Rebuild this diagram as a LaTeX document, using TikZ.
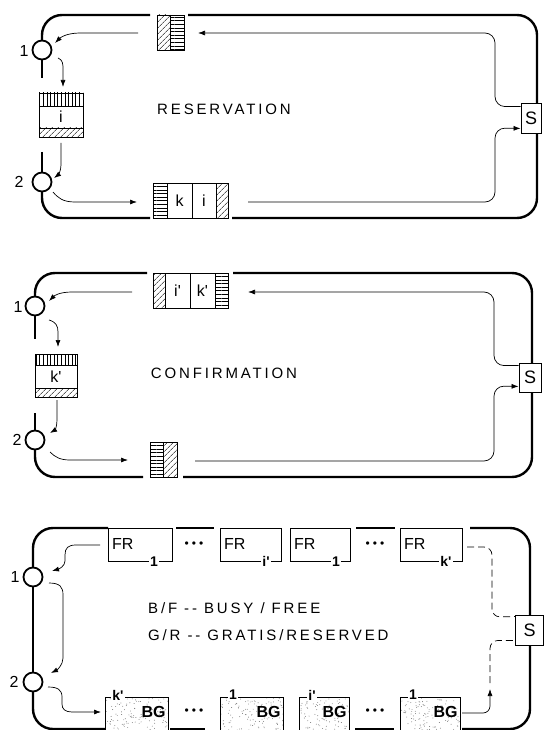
\documentclass[tikz,border=0pt]{standalone}
\usepackage{fontspec}
\setmainfont{Liberation Sans}
\newfontfamily\spacedfont[LetterSpace=19]{Liberation Sans}
\usetikzlibrary{arrows.meta,patterns.meta,calc}
\newcommand{\pr}{\textquotesingle}
\tikzset{
 outer/.style={line width=2.4pt},
 inner/.style={line width=0.7pt},
 arr/.style={inner,-{Latex[length=7pt,width=5pt]}},
 dsh/.style={inner,dash pattern=on 7pt off 4pt},
 ring/.style={circle,draw,line width=1.8pt,minimum size=19pt,inner sep=0pt,fill=white},
 cell/.style={draw,line width=0.8pt,inner sep=0pt,anchor=north west},
 dhatch/.style={pattern={Lines[angle=45,distance=4pt,line width=0.6pt]}},
 hhatch/.style={pattern={Lines[angle=0,distance=3.6pt,line width=0.6pt]}},
 vhatch/.style={pattern={Lines[angle=90,distance=3.6pt,line width=0.6pt]}},
 sbox/.style={draw,line width=0.9pt,fill=white,inner sep=0pt,font=\fontsize{18}{18}\selectfont},
 lab/.style={font=\fontsize{16}{16}\selectfont,inner sep=0pt},
 title/.style={font=\spacedfont\fontsize{15}{15}\selectfont,inner sep=0pt},
 sub/.style={font=\fontsize{14}{14}\selectfont\bfseries,fill=white,inner sep=1pt},
 bgl/.style={font=\fontsize{16}{16}\selectfont\bfseries,inner sep=0pt,anchor=east},
 dots/.style={font=\fontsize{12}{12}\selectfont,inner sep=0pt},
 stipple/.style={path picture={
   \foreach \k in {1,...,160}{
     \fill[black!55] ($(path picture bounding box.north west)+({rnd*72},{rnd*40})$) circle (0.45pt);}}},
}
\begin{document}
\begin{tikzpicture}[x=1pt,y=-1pt]
\path[use as bounding box,fill=white] (0,0) rectangle (544,730);

%================ panel 1: RESERVATION
\draw[outer,rounded corners=20pt] (42,45) |- (150,15);
\draw[outer] (42,55) -- (42,78);
\draw[outer] (42,152) -- (42,175);
\draw[outer,rounded corners=20pt] (42,188) |- (150,218);
\draw[outer,rounded corners=20pt] (188,15) -- (537,15) -- (537,218) -- (232,218);
\node[ring] (c1a) at (42,50) {};
\node[ring] (c2a) at (42,182) {};
\node[lab] (l1a) at (24,51) {1};
\node[lab] (l2a) at (19,182) {2};
\node[sbox,minimum width=20pt,minimum height=30pt] (sa) at (531,118) {S};
% top box
\node[cell,minimum width=27pt,minimum height=35pt] (ta) at (157,15) {};
\path[dhatch] (157,15) rectangle (170,50);
\path[hhatch] (170,15) rectangle (184,50);
\draw[line width=0.8pt] (170,15) -- (170,50);
% box i
\node[cell,minimum width=44pt,minimum height=44pt] (ba) at (39,93) {};
\path[vhatch] (39,93) rectangle (83,106);
\path[dhatch] (39,128) rectangle (83,137);
\draw[line width=0.8pt] (39,106) -- (83,106) (39,128) -- (83,128);
\node[lab] (ia) at (61,117) {i};
% bottom box
\node[cell,minimum width=75pt,minimum height=35pt] (bba) at (153,183) {};
\path[hhatch] (153,183) rectangle (167,218);
\path[dhatch] (216,183) rectangle (228,218);
\draw[line width=0.8pt] (167,183) -- (167,218) (192,183) -- (192,218) (216,183) -- (216,218);
\node[lab] (ka) at (179.5,201) {k};
\node[lab] (ia2) at (204,201) {i};
% arrows
\draw[arr,rounded corners=10pt] ($(sa.north west)+(0,4)$) -| (495,33) -- (198,33);
\draw[arr] (138,33) -- (80,33) .. controls (66,33) and (60,38) .. (55,43);
\draw[arr] (58,58) .. controls (63,60) and (63,64) .. (63,70) -- (63,87);
\draw[arr] (61,143) -- (61,165) .. controls (61,171) and (58,175) .. (54,178);
\draw[arr] (53,192) .. controls (58,198) and (63,202) .. (75,202) -- (137,202);
\draw[arr,rounded corners=10pt] (248,202) -| (495,128) -- ($(sa.south west)+(0,-5)$);
\node[title] (tt1) at (224,109) {RESERVATION};

%================ panel 2: CONFIRMATION
\draw[outer,rounded corners=20pt] (35,300) |- (147,273);
\draw[outer] (35,312) -- (35,339);
\draw[outer] (35,413) -- (35,434);
\draw[outer,rounded corners=20pt] (35,446) |- (143,477);
\draw[outer,rounded corners=20pt] (233,273) -- (532,273) -- (532,477) -- (183,477);
\node[ring] (c1b) at (35,306) {};
\node[ring] (c2b) at (35,440) {};
\node[lab] (l1b) at (18,307) {1};
\node[lab] (l2b) at (17,440) {2};
\node[sbox,minimum width=22pt,minimum height=29pt] (sb) at (530,377.5) {S};
% top box
\node[cell,minimum width=75pt,minimum height=35pt] (tb) at (153,273) {};
\path[dhatch] (153,273) rectangle (165,308);
\path[hhatch] (215,273) rectangle (228,308);
\draw[line width=0.8pt] (165,273) -- (165,308) (190,273) -- (190,308) (215,273) -- (215,308);
\node[lab] (ib) at (177.5,291) {i\pr};
\node[lab] (kb) at (202.5,291) {k\pr};
% box k'
\node[cell,minimum width=42pt,minimum height=43pt] (bb) at (35,354) {};
\path[vhatch] (35,354) rectangle (77,365);
\path[dhatch] (35,388) rectangle (77,397);
\draw[line width=0.8pt] (35,365) -- (77,365) (35,388) -- (77,388);
\node[lab] (kb2) at (56,377) {k\pr};
% bottom box
\node[cell,minimum width=27pt,minimum height=35pt] (bbb) at (150,442) {};
\path[hhatch] (150,442) rectangle (163.5,477);
\path[dhatch] (163.5,442) rectangle (177,477);
\draw[line width=0.8pt] (163.5,442) -- (163.5,477);
% arrows
\draw[arr,rounded corners=10pt] ($(sb.north west)+(0,3)$) -| (494,292) -- (248,292);
\draw[arr] (132,292) -- (72,292) .. controls (59,292) and (54,296) .. (49,301);
\draw[arr] (49,320) .. controls (56,322) and (58,326) .. (58,332) -- (58,347);
\draw[arr] (57,400) -- (57,420) .. controls (57,426) and (55,430) .. (50,433);
\draw[arr] (50,452) .. controls (55,457) and (60,460) .. (70,460) -- (128,460);
\draw[arr,rounded corners=10pt] (195,461) -| (494,386) -- ($(sb.south west)+(0,-6)$);
\node[title] (tt2) at (224,373) {CONFIRMATION};

%================ panel 3
\draw[outer,rounded corners=20pt] (33,571) |- (108,528);
\draw[outer] (33,583) -- (33,676);
\draw[outer,rounded corners=20pt] (33,688) |- (105,729);
\draw[outer] (176,528) -- (214,528);
\draw[outer] (356,528) -- (395,528);
\draw[outer] (170,729) -- (205,729);
\draw[outer] (355,729) -- (394,729);
\draw[outer,rounded corners=20pt] (470,528) -- (530,528) -- (530,729) -- (462,729);
\node[ring] (c1c) at (33,577) {};
\node[ring] (c2c) at (33,682) {};
\node[lab] (l1c) at (15,577) {1};
\node[lab] (l2c) at (14,682) {2};
\node[sbox,minimum width=28pt,minimum height=30pt] (sc) at (529.5,630) {S};
% FR boxes
\node[cell,minimum width=64pt,minimum height=33pt] (fr1) at (108,528) {};
\node[cell,minimum width=61pt,minimum height=33pt] (fr2) at (220,528) {};
\node[cell,minimum width=60pt,minimum height=33pt] (fr3) at (290,528) {};
\node[cell,minimum width=62pt,minimum height=33pt] (fr4) at (400,528) {};
\foreach \b/\s in {fr1/1,fr2/i\pr,fr3/1,fr4/k\pr}{
  \node[lab,anchor=west] (\b t) at ($(\b.west)+(4,-1)$) {FR};
  \node[sub] (\b s) at ($(\b.south west)+(46,0)$) {\s};
}
\node[dots] (d1) at (194,545) {•\hspace{3pt}•\hspace{3pt}•};
\node[dots] (d2) at (375,545) {•\hspace{3pt}•\hspace{3pt}•};
% BG boxes
\node[cell,stipple,minimum width=63pt,minimum height=36pt] (bg1) at (105,697) {};
\node[cell,stipple,minimum width=63pt,minimum height=36pt] (bg2) at (220,697) {};
\node[cell,stipple,minimum width=50pt,minimum height=36pt] (bg3) at (299,697) {};
\node[cell,stipple,minimum width=60pt,minimum height=36pt] (bg4) at (400,697) {};
\foreach \b/\s in {bg1/k\pr,bg2/1,bg3/i\pr,bg4/1}{
  \node[bgl] (\b t) at ($(\b.north east)+(-3,15)$) {BG};
  \node[sub] (\b s) at ($(\b.north west)+(13,-2)$) {\s};
}
\node[dots] (d3) at (194,712) {•\hspace{3pt}•\hspace{3pt}•};
\node[dots] (d4) at (375,712) {•\hspace{3pt}•\hspace{3pt}•};
% connectors
\draw[arr] (100,545) -- (76,545) .. controls (68,545) and (65,548) .. (65,555) -- (65,561) .. controls (65,566) and (59,569) .. (52,571);
\draw[arr] (49,583) .. controls (60,583) and (63,587) .. (63,595) -- (63,658) .. controls (63,665) and (57,670) .. (51,673);
\draw[arr] (48,687) .. controls (58,687) and (62,690) .. (62,697) -- (62,704) .. controls (62,709) and (65,712) .. (72,712) -- (101,712);
\draw[dsh,rounded corners=8pt] (467,547) -| (492,617) -- ($(sc.north west)+(0,2)$);
\draw[arr,rounded corners=7pt] (462,713) -| (490,689);
\draw[dsh,rounded corners=8pt] (490,683) |- ($(sc.south west)+(0,-5)$);
\node[title,anchor=west] (tx1) at (148,608) {B/F -{}- BUSY / FREE};
\node[title,anchor=west] (tx2) at (148,635) {G/R -{}- GRATIS/RESERVED};
\end{tikzpicture}
\end{document}
